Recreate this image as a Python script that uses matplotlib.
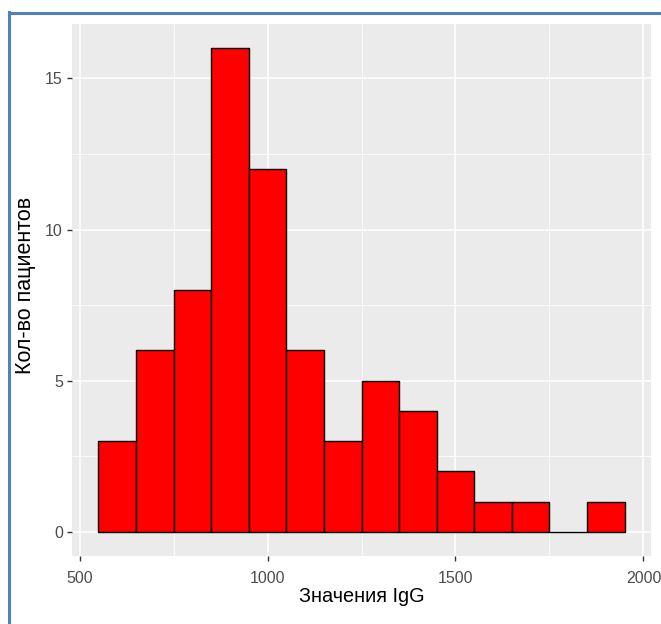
import matplotlib
matplotlib.use("Agg")
import matplotlib.pyplot as plt
from matplotlib.lines import Line2D

# Histogram of IgG values, bin width 100
bin_starts = [550, 650, 750, 850, 950, 1050, 1150, 1250, 1350, 1450, 1550, 1650, 1750, 1850]
counts = [3, 6, 8, 16, 12, 6, 3, 5, 4, 2, 1, 1, 0, 1]
bin_width = 100
x_ticks = [500, 1000, 1500, 2000]
y_ticks = [0, 5, 10, 15]
x_label = "Значения IgG"
y_label = "Кол-во пациентов"

plt.rcParams['font.family'] = ['Liberation Sans', 'DejaVu Sans']

W, H = 661, 624
fig = plt.figure(figsize=(W / 100, H / 100), dpi=100)
fig.patch.set_facecolor("white")

left, right, top, bottom = 72, 651, 24, 556
ax = fig.add_axes([left / W, 1 - bottom / H, (right - left) / W, (bottom - top) / H])
ax.set_facecolor("#EBEBEB")

ax.bar(bin_starts, counts, width=bin_width, align="edge",
       color="#FF0000", edgecolor="black", linewidth=1.0, zorder=3)

lo = bin_starts[0]
hi = bin_starts[-1] + bin_width
pad = 0.05 * (hi - lo)
ax.set_xlim(lo - pad, hi + pad)
ymax = max(counts)
ax.set_ylim(-0.05 * ymax, ymax * 1.05)

ax.set_xticks(x_ticks)
ax.set_yticks(y_ticks)
ax.set_xticks([750, 1250, 1750], minor=True)
ax.set_yticks([2.5, 7.5, 12.5], minor=True)
ax.grid(which="major", color="white", linewidth=1.1, zorder=0)
ax.grid(which="minor", color="white", linewidth=0.55, zorder=0)
ax.set_axisbelow(True)

for s in ax.spines.values():
    s.set_visible(False)
ax.tick_params(which="major", length=3.6, width=1.0, color="#333333",
               labelcolor="#4D4D4D", labelsize=11.5)
ax.tick_params(axis="x", which="major", pad=7)
ax.tick_params(axis="y", which="major", pad=3)
ax.tick_params(which="minor", length=0)

ax.set_xlabel(x_label, fontsize=14.3, color="black")
ax.set_ylabel(y_label, fontsize=15.5, color="black")
ax.xaxis.set_label_coords(0.5, -0.058)
ax.yaxis.set_label_coords(-0.062, 0.509)

# Frame lines along the left and top edges
fig.add_artist(Line2D([8.5 / W, 8.5 / W], [0, 1 - 12 / H], transform=fig.transFigure,
                      color="#4F81BD", linewidth=2.2))
fig.add_artist(Line2D([8.5 / W, 1], [1 - 13 / H, 1 - 13 / H], transform=fig.transFigure,
                      color="#4F81BD", linewidth=2.2))

fig.savefig("out.png", dpi=100, facecolor="white")
